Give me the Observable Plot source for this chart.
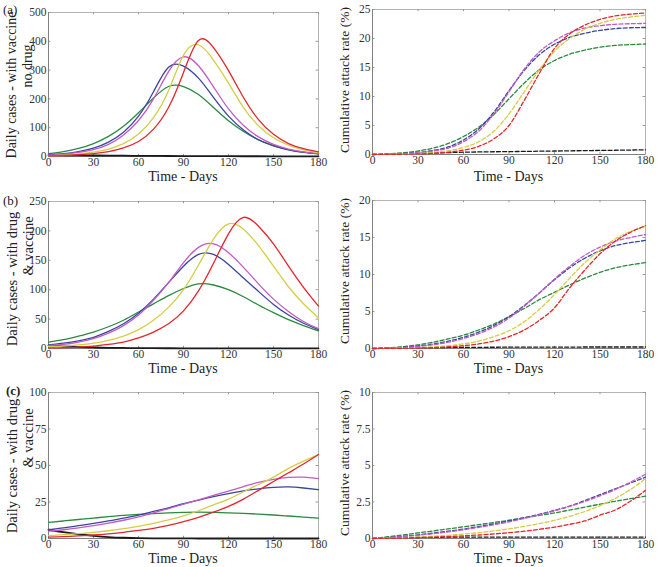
<!DOCTYPE html>
<html><head><meta charset="utf-8">
<script src="https://cdn.jsdelivr.net/npm/d3@7"></script>
<script src="https://cdn.jsdelivr.net/npm/@observablehq/plot@0.6"></script>
<style>
body{margin:0;background:#fff;}
#root{position:relative;width:657px;height:567px;overflow:hidden;font-family:"Liberation Serif","Times New Roman",serif;color:#222;}
.lab{position:absolute;white-space:nowrap;line-height:1;transform:translate(-50%,-50%);}
.rot{transform:translate(-50%,-50%) rotate(-90deg);}
.tag{position:absolute;white-space:nowrap;line-height:1;font-size:13px;}
svg text{font-family:"Liberation Serif","Times New Roman",serif;}
</style></head><body><div id="root"></div>
<script>
// ---------- data ----------
const days = [0,10,20,30,40,50,60,70,80,90,100,110,120,130,140,150,160,170,180];
const xTicks = [0,30,60,90,120,150,180];

// (a) daily cases - with vaccine, no drug
const aDailyBlack   = [5,4.5,4,3.5,3,2.7,2.4,2.1,1.8,1.6,1.4,1.2,1,0.9,0.8,0.7,0.6,0.55,0.5];
const aDailyGreen   = [10,17,28,45,70,105,152,203,243,243,215,170,124,87,58,38,24,15,9];
const aDailyBlue    = [6,10,17,29,50,84,140,225,310,314,272,205,140,92,58,37,23,14,9];
const aDailyMagenta = [5,8,14,24,42,75,125,200,295,346,315,242,165,108,68,42,26,16,10];
const aDailyYellow  = [3,5,9,15,26,45,78,135,228,352,388,335,255,170,107,65,39,23,14];
const aDailyRed     = [2,3,6,10,17,30,52,95,170,292,403,378,298,205,128,77,45,27,16];
// (a) cumulative attack rate (%)
const aCumBlack   = [0,0.07,0.14,0.2,0.27,0.33,0.4,0.44,0.47,0.5,0.53,0.57,0.6,0.63,0.67,0.7,0.73,0.77,0.8];
const aCumGreen   = [0,0.1,0.3,0.6,1.1,1.9,3.1,4.7,6.9,9.6,12.3,14.6,16.2,17.3,18.0,18.5,18.8,18.95,19.05];
const aCumBlue    = [0,0.05,0.15,0.35,0.7,1.3,2.5,4.4,7.3,11.0,14.5,17.2,19.0,20.2,20.9,21.4,21.7,21.85,21.9];
const aCumMagenta = [0,0.05,0.12,0.3,0.6,1.1,2.2,4.0,7.0,10.8,14.7,17.7,19.6,21.0,21.8,22.2,22.45,22.55,22.6];
const aCumYellow  = [0,0.03,0.08,0.17,0.35,0.65,1.2,2.2,4.0,7.0,10.8,14.6,17.8,20.0,21.6,22.6,23.3,23.7,24.0];
const aCumRed     = [0,0.02,0.05,0.1,0.2,0.4,0.75,1.4,2.7,5.0,9.3,14.0,18.3,20.8,22.3,23.3,23.9,24.2,24.4];

// (b) daily cases - with drug & vaccine
const bDailyBlack   = [5,3.5,2.5,1.8,1.2,0.9,0.6,0.5,0.4,0.3,0.25,0.2,0.2,0.15,0.15,0.1,0.1,0.1,0.1];
const bDailyGreen   = [11,15,21,28,37,48,62,76,90,102,110,108,100,88,74,61,49,39,30];
const bDailyBlue    = [6,9,13,19,29,42,60,84,112,140,160,160,143,120,97,75,57,43,32];
const bDailyMagenta = [5,7,11,17,26,39,57,82,112,146,172,178,163,138,110,84,63,46,34];
const bDailyYellow  = [3,4,6,9,14,21,32,48,70,100,142,186,212,203,175,140,105,76,52];
const bDailyRed     = [1,1.5,2.5,4,7,11,18,28,42,64,98,145,195,223,208,178,140,104,72];
// (b) cumulative attack rate (%)
const bCumBlack   = [0,0.04,0.07,0.1,0.12,0.14,0.15,0.16,0.17,0.18,0.18,0.19,0.19,0.19,0.2,0.2,0.2,0.2,0.2];
const bCumGreen   = [0,0.1,0.25,0.5,0.85,1.3,1.8,2.5,3.3,4.3,5.4,6.6,7.6,8.6,9.5,10.3,10.9,11.3,11.6];
const bCumBlue    = [0,0.05,0.15,0.35,0.6,1.0,1.5,2.2,3.1,4.3,5.8,7.5,9.3,10.9,12.2,13.2,13.9,14.3,14.6];
const bCumMagenta = [0,0.04,0.12,0.28,0.5,0.85,1.35,2.0,2.9,4.1,5.7,7.5,9.4,11.1,12.6,13.7,14.5,15.0,15.4];
const bCumYellow  = [0,0.02,0.06,0.12,0.22,0.38,0.62,1.0,1.6,2.4,3.6,5.3,7.3,9.5,11.6,13.3,14.8,15.8,16.5];
const bCumRed     = [0,0.01,0.03,0.06,0.12,0.22,0.38,0.62,1.0,1.6,2.5,3.8,5.5,8.2,10.6,12.8,14.5,15.7,16.6];

// (c) daily cases - with drug & vaccine
const cDailyBlack   = [6,4.3,2.9,1.8,1.0,0.5,0.2,0.1,0.05,0.05,0,0,0,0,0,0,0,0,0];
const cDailyGreen   = [11,12,13,14,15,15.8,16.5,17.1,17.6,17.9,18,17.9,17.6,17.2,16.7,16.1,15.4,14.7,14];
const cDailyBlue    = [6,7.3,8.8,10.3,12,14,16,18.5,21,23.8,26.3,28.7,30.8,32.6,34,35,35.3,34.6,33.5];
const cDailyMagenta = [5,6,7.3,8.8,10.5,12.5,14.8,17.5,20.5,23.5,26.5,29.5,32.5,35.5,38.5,40.5,41.8,42,41];
const cDailyYellow  = [2,2.6,3.3,4.2,5.3,6.7,8.3,10.3,12.7,15.5,19,23,27,32,37,42,48,53,57.5];
const cDailyRed     = [1,1.3,1.8,2.4,3.2,4.2,5.5,7,9,11.5,14.5,18,22,27,33,39,45,51,57.5];
// (c) cumulative attack rate (%)
const cCumBlack   = [0,0.03,0.05,0.07,0.08,0.09,0.1,0.1,0.1,0.1,0.1,0.1,0.1,0.1,0.1,0.1,0.1,0.1,0.1];
const cCumGreen   = [0,0.12,0.25,0.38,0.52,0.66,0.8,0.95,1.1,1.25,1.42,1.58,1.75,1.95,2.15,2.35,2.55,2.73,2.9];
const cCumBlue    = [0,0.06,0.15,0.25,0.37,0.5,0.65,0.82,1.0,1.2,1.42,1.66,1.93,2.22,2.6,3.0,3.4,3.8,4.2];
const cCumMagenta = [0,0.05,0.13,0.22,0.33,0.45,0.6,0.76,0.94,1.14,1.37,1.62,1.9,2.2,2.54,2.92,3.35,3.85,4.4];
const cCumYellow  = [0,0.02,0.05,0.1,0.15,0.22,0.3,0.4,0.52,0.66,0.83,1.02,1.25,1.52,1.85,2.25,2.75,3.35,4.1];
const cCumRed     = [0,0.01,0.03,0.06,0.09,0.13,0.18,0.24,0.31,0.4,0.5,0.63,0.78,0.97,1.2,1.6,1.95,2.55,3.3];

const yTicksADaily = [0,100,200,300,400,500];
const yTicksACum   = [0,5,10,15,20,25];
const yTicksBDaily = [0,50,100,150,200,250];
const yTicksBCum   = [0,5,10,15,20];
const yTicksCDaily = [0,25,50,75,100];
const yTicksCCum   = [0,2.5,5,7.5,10];

const seriesColors = {black:"#1a1a1a", green:"#2a8a3e", blue:"#3a469c", magenta:"#c25bc4", yellow:"#d4cd45", red:"#e3262b"};
const drawOrder = ["black","green","blue","magenta","yellow","red"];

// ---------- drawing ----------
const root = document.getElementById("root");
const SERIF = "'Liberation Serif', 'Times New Roman', serif";

function panel(cfg) {
  const {left, top, width, height, mT, mR, mB, mL, yMax, yTicks, series, dashed} = cfg;
  const marks = [
    Plot.frame({stroke:"#b4b4b4"}),
    Plot.ruleX(xTicks, {x: d => d, y1: 0, y2: yMax * 0.015, stroke: "#999"}),
    Plot.ruleX(xTicks, {x: d => d, y1: yMax, y2: yMax * 0.985, stroke: "#999"}),
    Plot.ruleY(yTicks, {y: d => d, x1: 0, x2: 180 * 0.009, stroke: "#999"}),
    Plot.ruleY(yTicks, {y: d => d, x1: 180, x2: 180 * 0.991, stroke: "#999"}),
    Plot.ruleX([0], {stroke: "#808080"}),
    Plot.ruleY([0], {stroke: "#808080"})
  ];
  for (const k of drawOrder) {
    const rows = days.map((d, i) => ({day: d, value: series[k][i]}));
    marks.push(Plot.line(rows, {
      x: "day", y: "value", stroke: seriesColors[k],
      strokeWidth: k === "black" ? (dashed ? 1.3 : 1.8) : 1.3,
      strokeDasharray: dashed ? "4,2.2" : null,
      curve: dashed ? "monotone-x" : "natural"
    }));
  }
  marks.push(Plot.axisX({ticks: xTicks, tickSize: 0, tickPadding: 1, fontSize: 11.5, label: null, fontFamily: SERIF}));
  marks.push(Plot.axisY({ticks: yTicks, tickSize: 0, tickPadding: 2, fontSize: 11.5, label: null, fontFamily: SERIF, tickFormat: d => String(d)}));
  const svg = Plot.plot({
    width, height, marginTop: mT, marginRight: mR, marginBottom: mB, marginLeft: mL,
    style: {background: "transparent", color: "#333", overflow: "visible"},
    x: {domain: [0, 180]},
    y: {domain: [0, yMax]},
    marks
  });
  svg.setAttribute("font-family", SERIF);
  svg.style.fontFamily = SERIF;
  svg.style.position = "absolute";
  svg.style.left = left + "px";
  svg.style.top = top + "px";
  root.appendChild(svg);
}

function label(text, cx, cy, size, rotate) {
  const el = document.createElement("div");
  el.className = "lab" + (rotate ? " rot" : "");
  el.textContent = text;
  el.style.left = cx + "px";
  el.style.top = cy + "px";
  el.style.fontSize = size + "px";
  root.appendChild(el);
}
function tag(text, x, y, bold) {
  const el = document.createElement("div");
  el.className = "tag";
  el.textContent = text;
  el.style.left = x + "px";
  el.style.top = y + "px";
  if (bold) el.style.fontWeight = "bold";
  root.appendChild(el);
}

const rows = [
  {top: 0, height: 185,
   L: {mT: 12, mB: 29, yMax: 500, yTicks: yTicksADaily, series: {black: aDailyBlack, green: aDailyGreen, blue: aDailyBlue, magenta: aDailyMagenta, yellow: aDailyYellow, red: aDailyRed}},
   R: {mT: 9, mB: 31, yMax: 25, yTicks: yTicksACum, series: {black: aCumBlack, green: aCumGreen, blue: aCumBlue, magenta: aCumMagenta, yellow: aCumYellow, red: aCumRed}}},
  {top: 185, height: 190,
   L: {mT: 16, mB: 27, yMax: 250, yTicks: yTicksBDaily, series: {black: bDailyBlack, green: bDailyGreen, blue: bDailyBlue, magenta: bDailyMagenta, yellow: bDailyYellow, red: bDailyRed}},
   R: {mT: 15, mB: 27, yMax: 20, yTicks: yTicksBCum, series: {black: bCumBlack, green: bCumGreen, blue: bCumBlue, magenta: bCumMagenta, yellow: bCumYellow, red: bCumRed}}},
  {top: 375, height: 192,
   L: {mT: 17, mB: 29, yMax: 100, yTicks: yTicksCDaily, series: {black: cDailyBlack, green: cDailyGreen, blue: cDailyBlue, magenta: cDailyMagenta, yellow: cDailyYellow, red: cDailyRed}},
   R: {mT: 17, mB: 29, yMax: 10, yTicks: yTicksCCum, series: {black: cCumBlack, green: cCumGreen, blue: cCumBlue, magenta: cCumMagenta, yellow: cCumYellow, red: cCumRed}}}
];

for (const r of rows) {
  panel({left: 0, top: r.top, width: 330, height: r.height, mL: 48, mR: 12, dashed: false, ...r.L});
  panel({left: 330, top: r.top, width: 327, height: r.height, mL: 42, mR: 12, dashed: true, ...r.R});
}

// panel tags
tag("(a)", 3, 3, false);
tag("(b)", 3, 194, false);
tag("(c)", 6, 384, true);

// x-axis titles
for (const cy of [177, 369, 559]) {
  label("Time - Days", 183, cy, 14, false);
  label("Time - Days", 508.5, cy, 14, false);
}

// y-axis titles (left)
label("Daily cases - with vaccine", 12, 85, 14, true);
label("no drug", 28, 66, 14, true);
label("Daily cases - with drug", 12, 279, 14.5, true);
label("& vaccine", 28, 246, 14.5, true);
label("Daily cases - with drug", 12, 466, 14.5, true);
label("& vaccine", 28, 438, 14.5, true);

// y-axis titles (right)
label("Cumulative attack rate (%)", 345, 80, 13.5, true);
label("Cumulative attack rate (%)", 345, 271, 13.5, true);
label("Cumulative attack rate (%)", 345, 463, 13.5, true);
</script></body></html>
